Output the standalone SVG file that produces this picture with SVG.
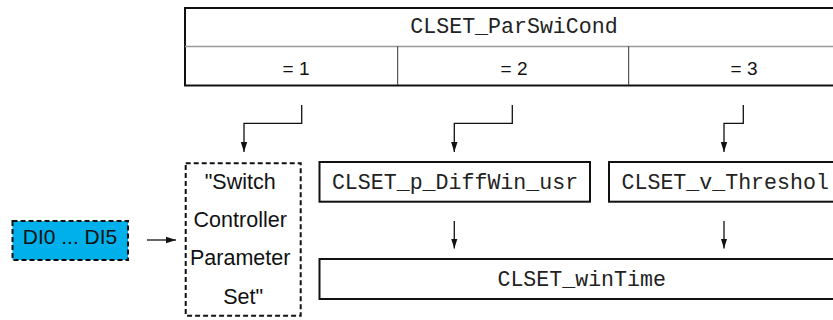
<svg xmlns="http://www.w3.org/2000/svg" width="833" height="320" viewBox="0 0 833 320">
<defs>
<style>
.mono{font-family:"Liberation Mono","Courier New",monospace;font-size:21.6px;fill:#222}
.sans{font-family:"Liberation Sans",Arial,sans-serif;fill:#111}
.box{fill:#fff;stroke:#111;stroke-width:2}
.dash{stroke:#111;stroke-width:2;stroke-dasharray:5,3}
.conn{fill:none;stroke:#111;stroke-width:1.3}
</style>
<marker id="ah" viewBox="0 0 10 10" refX="10" refY="5" markerWidth="10" markerHeight="10" markerUnits="userSpaceOnUse" orient="auto">
<path d="M0,1.8 L10,5 L0,8.2 z" fill="#111"/>
</marker>
</defs>
<rect width="833" height="320" fill="#fff"/>
<g id="table">
<rect x="185" y="8" width="680" height="77.5" class="box"/>
<line x1="185" y1="46.5" x2="865" y2="46.5" stroke="#999" stroke-width="1.5"/>
<line x1="397.7" y1="46.5" x2="397.7" y2="85" stroke="#333" stroke-width="1"/>
<line x1="628.7" y1="46.5" x2="628.7" y2="85" stroke="#333" stroke-width="1"/>
<text x="514" y="33" class="mono" text-anchor="middle">CLSET_ParSwiCond</text>
<text x="296" y="74.7" class="sans" font-size="19" text-anchor="middle">= 1</text>
<text x="514" y="74.7" class="sans" font-size="19" text-anchor="middle">= 2</text>
<text x="744" y="74.7" class="sans" font-size="19" text-anchor="middle">= 3</text>
</g>
<g id="di">
<rect x="12.5" y="221" width="115.5" height="39" fill="#00B0EB" class="dash"/>
<text x="70" y="243.5" class="sans" font-size="21" text-anchor="middle">DI0 ... DI5</text>
</g>
<g id="switch">
<rect x="185.7" y="163.3" width="115" height="152.4" fill="#fff" class="dash"/>
<text class="sans" font-size="21.5" text-anchor="middle">
<tspan x="243.2" y="189.3">"Switch</tspan>
<tspan x="243.2" y="227.3">Controller</tspan>
<tspan x="243.2" y="265.3">Parameter</tspan>
<tspan x="243.2" y="303.8">Set"</tspan>
</text>
</g>
<g id="diffwin">
<rect x="319.5" y="162" width="270.5" height="39.7" class="box"/>
<text x="455" y="189" class="mono" text-anchor="middle">CLSET_p_DiffWin_usr</text>
</g>
<g id="threshol">
<rect x="609" y="162" width="250" height="39.7" class="box"/>
<text x="621.5" y="189" class="mono">CLSET_v_Threshol</text>
</g>
<g id="wintime">
<rect x="319.5" y="259" width="540" height="40" class="box"/>
<text x="581.7" y="285.5" class="mono" text-anchor="middle">CLSET_winTime</text>
</g>
<g id="connectors">
<path d="M301.7,105 V123.3 H244 V152" class="conn" marker-end="url(#ah)"/>
<path d="M512.3,105 V123.3 H454.3 V152" class="conn" marker-end="url(#ah)"/>
<path d="M743.3,105 V123.3 H724 V152" class="conn" marker-end="url(#ah)"/>
<path d="M454.3,221 V248.5" class="conn" marker-end="url(#ah)"/>
<path d="M724,221 V248.5" class="conn" marker-end="url(#ah)"/>
<path d="M147,240 H176" class="conn" marker-end="url(#ah)"/>
</g>
</svg>
